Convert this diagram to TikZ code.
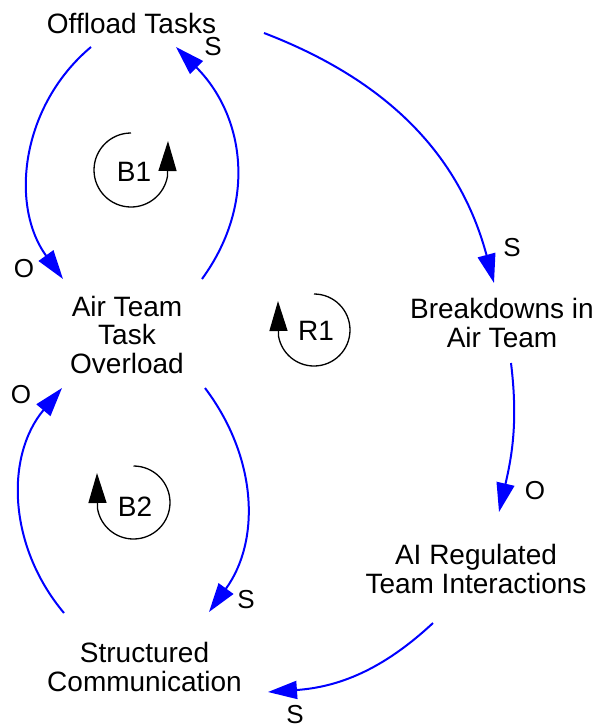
\documentclass[tikz,border=0pt]{standalone}
\usepackage{fontspec}
\setmainfont{Liberation Sans}
\usetikzlibrary{arrows.meta}
\begin{document}
\begin{tikzpicture}[x=1pt,y=-1pt,
  var/.style={inner sep=0pt, align=center, font=\fontsize{28}{28.5}\selectfont},
  pol/.style={inner sep=0pt, font=\fontsize{26}{26}\selectfont},
  looplbl/.style={inner sep=0pt, font=\fontsize{28}{28}\selectfont},
  link/.style={draw=blue, line width=2pt, -{Triangle[length=29pt,width=18pt]}},
  loopar/.style={draw=black, line width=1.3pt, -{Triangle[length=30pt,width=18pt]}}
]
\useasboundingbox (0,0) rectangle (598,728);
% variables
\node[var] (off) at (131.5,23) {Offload Tasks};
\node[var] (ato) at (127,334.5) {Air Team\\Task\\Overload};
\node[var] (brk) at (502,323) {Breakdowns in\\Air Team};
\node[var] (ai)  at (476,569) {AI Regulated\\Team Interactions};
\node[var] (sc)  at (144.5,667) {Structured\\Communication};
% links (angles are canvas angles, y up)
\draw[link] ([shift={(-40.5,24)}]off.center) to[out=-140,in=126] ([shift={(-64,-55.5)}]ato.center);
\draw[link] ([shift={(75,-55.5)}]ato.center) to[out=54,in=-45,looseness=1.05] ([shift={(44.5,24)}]off.center);
\draw[link] ([shift={(132.5,10)}]off.center) to[out=-21,in=105] ([shift={(-8,-40)}]brk.center);
\draw[link] ([shift={(9,40)}]brk.center) to[out=-83,in=77] ([shift={(23,-57)}]ai.center);
\draw[link] ([shift={(-43,54)}]ai.center) to[out=-137,in=4] ([shift={(123.5,25)}]sc.center);
\draw[link] ([shift={(-80.5,-54)}]sc.center) to[out=130,in=-130] ([shift={(-65,53.5)}]ato.center);
\draw[link] ([shift={(78,53.5)}]ato.center) to[out=-53,in=54] ([shift={(64.5,-55)}]sc.center);
% polarities
\node[pol] (p1) at (24,269) {O};
\node[pol] (p2) at (213,47) {S};
\node[pol] (p3) at (512,248) {S};
\node[pol] (p4) at (535,491) {O};
\node[pol] (p5) at (295,715) {S};
\node[pol] (p6) at (21,395) {O};
\node[pol] (p7) at (246,600) {S};
% loops
\node[looplbl] (b1) at (134,172) {B1};
\draw[loopar] (131,170) ++(270:37) arc[start angle=270, end angle=10, radius=37] -- (168,141);
\node[looplbl] (r1) at (316,331) {R1};
\draw[loopar] (314,330) ++(-90:36) arc[start angle=-90, end angle=170, radius=36] -- (278,301);
\node[looplbl] (b2) at (135,507) {B2};
\draw[loopar] (133.5,502.5) ++(-90:36.5) arc[start angle=-90, end angle=170, radius=36.5] -- (97,473);
\end{tikzpicture}
\end{document}
